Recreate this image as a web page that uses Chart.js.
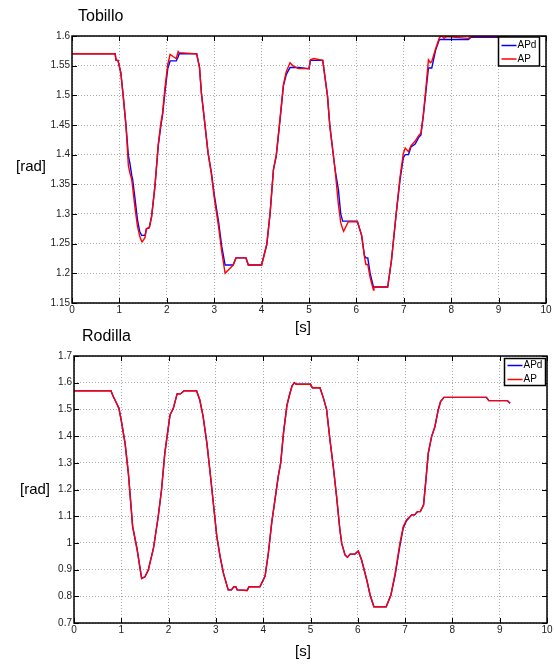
<!DOCTYPE html>
<html>
<head>
<meta charset="utf-8">
<script src="https://cdn.jsdelivr.net/npm/chart.js@4.4.1/dist/chart.umd.min.js"></script>
<style>
  body { margin: 0; background: #fff; }
  #wrap { position: relative; width: 554px; height: 664px; }
  canvas { position: absolute; left: 0; top: 0; }
</style>
</head>
<body>
<div id="wrap">
  <canvas id="tobillo" width="554" height="664"></canvas>
  <canvas id="rodilla" width="554" height="664"></canvas>
</div>
<script>
// Tobillo (ankle) - time [s], desired angle APd and measured AP [rad]
const tobT = [
  0.00, 0.91, 0.93, 0.97, 1.03, 1.08, 1.14, 1.19, 1.22, 1.26, 1.28, 1.33, 1.38, 1.43, 1.47, 1.48,
  1.54, 1.57, 1.63, 1.68, 1.75, 1.82, 1.88, 1.91, 1.96, 2.02, 2.07, 2.14, 2.20, 2.24, 2.26, 2.63,
  2.69, 2.73, 2.80, 2.87, 2.94, 3.00, 3.09, 3.16, 3.23, 3.40, 3.46, 3.67, 3.72, 4.00, 4.11, 4.18,
  4.25, 4.31, 4.39, 4.46, 4.52, 4.60, 4.67, 4.78, 5.00, 5.03, 5.10, 5.29, 5.39, 5.44, 5.55, 5.62,
  5.67, 5.71, 5.73, 5.83, 6.02, 6.11, 6.17, 6.20, 6.24, 6.29, 6.36, 6.37, 6.41, 6.66, 6.74, 6.84,
  6.92, 6.99, 7.03, 7.10, 7.15, 7.24, 7.32, 7.36, 7.41, 7.47, 7.52, 7.56, 7.59, 7.67, 7.75, 7.80,
  7.85, 7.90, 8.36, 8.42, 9.20
];
const tobApd = [
  1.570, 1.570, 1.559, 1.559, 1.538, 1.499, 1.448, 1.398, 1.386, 1.365, 1.358, 1.325, 1.291, 1.270, 1.264, 1.264,
  1.264, 1.275, 1.277, 1.296, 1.347, 1.415, 1.452, 1.466, 1.505, 1.545, 1.558, 1.558, 1.558, 1.565, 1.570, 1.570,
  1.547, 1.504, 1.454, 1.403, 1.370, 1.333, 1.288, 1.245, 1.214, 1.214, 1.226, 1.226, 1.214, 1.214, 1.249, 1.302,
  1.375, 1.398, 1.459, 1.516, 1.535, 1.547, 1.547, 1.547, 1.545, 1.559, 1.559, 1.559, 1.499, 1.448, 1.375, 1.341,
  1.300, 1.288, 1.288, 1.288, 1.288, 1.264, 1.230, 1.226, 1.226, 1.200, 1.177, 1.177, 1.177, 1.177, 1.222, 1.301,
  1.357, 1.395, 1.400, 1.400, 1.413, 1.418, 1.430, 1.433, 1.464, 1.509, 1.546, 1.546, 1.546, 1.576, 1.594, 1.594,
  1.594, 1.594, 1.594, 1.598, 1.598
];
const tobAp = [
  1.570, 1.570, 1.559, 1.559, 1.538, 1.499, 1.448, 1.381, 1.370, 1.358, 1.345, 1.310, 1.280, 1.262, 1.254, 1.253,
  1.260, 1.275, 1.277, 1.296, 1.347, 1.418, 1.456, 1.470, 1.512, 1.552, 1.569, 1.565, 1.562, 1.574, 1.572, 1.570,
  1.547, 1.504, 1.454, 1.403, 1.368, 1.328, 1.280, 1.236, 1.200, 1.214, 1.226, 1.226, 1.214, 1.214, 1.249, 1.302,
  1.375, 1.400, 1.462, 1.518, 1.540, 1.555, 1.549, 1.545, 1.545, 1.560, 1.562, 1.559, 1.499, 1.448, 1.375, 1.316,
  1.285, 1.275, 1.271, 1.287, 1.287, 1.264, 1.228, 1.215, 1.215, 1.193, 1.172, 1.176, 1.177, 1.177, 1.222, 1.301,
  1.362, 1.402, 1.411, 1.405, 1.415, 1.423, 1.433, 1.436, 1.466, 1.515, 1.560, 1.555, 1.557, 1.578, 1.597, 1.600,
  1.596, 1.599, 1.596, 1.599, 1.599
];

// Rodilla (knee)
const rodT = [
  0.00, 0.78, 0.83, 0.90, 0.95, 1.01, 1.08, 1.15, 1.24, 1.33, 1.43, 1.50, 1.57, 1.68, 1.78, 1.85,
  1.92, 2.03, 2.10, 2.18, 2.25, 2.33, 2.59, 2.66, 2.73, 2.81, 2.88, 3.02, 3.09, 3.16, 3.26, 3.33,
  3.38, 3.42, 3.45, 3.66, 3.70, 3.93, 4.04, 4.11, 4.18, 4.25, 4.32, 4.37, 4.43, 4.50, 4.55, 4.61,
  4.66, 4.70, 5.00, 5.04, 5.20, 5.27, 5.34, 5.41, 5.48, 5.55, 5.62, 5.66, 5.73, 5.78, 5.84, 5.94,
  6.01, 6.08, 6.19, 6.26, 6.34, 6.60, 6.70, 6.79, 6.89, 6.96, 7.03, 7.14, 7.20, 7.26, 7.32, 7.39,
  7.44, 7.49, 7.56, 7.63, 7.70, 7.75, 7.82, 8.72, 8.77, 9.16, 9.22
];
const rodApd = [
  1.570, 1.570, 1.548, 1.523, 1.504, 1.448, 1.373, 1.260, 1.061, 0.980, 0.867, 0.873, 0.898, 0.980, 1.098, 1.198,
  1.336, 1.479, 1.504, 1.558, 1.558, 1.570, 1.570, 1.535, 1.473, 1.373, 1.260, 1.023, 0.948, 0.886, 0.824, 0.824,
  0.836, 0.836, 0.824, 0.822, 0.836, 0.836, 0.876, 0.963, 1.076, 1.163, 1.251, 1.300, 1.413, 1.513, 1.550, 1.588,
  1.600, 1.594, 1.594, 1.581, 1.581, 1.544, 1.500, 1.388, 1.288, 1.176, 1.051, 0.998, 0.955, 0.946, 0.958, 0.958,
  0.970, 0.936, 0.861, 0.805, 0.761, 0.761, 0.805, 0.880, 0.990, 1.055, 1.083, 1.105, 1.105, 1.117, 1.117, 1.142,
  1.236, 1.336, 1.398, 1.435, 1.498, 1.529, 1.545, 1.545, 1.533, 1.533, 1.523
];
const rodAp = [
  1.570, 1.570, 1.548, 1.523, 1.504, 1.448, 1.373, 1.260, 1.061, 0.980, 0.867, 0.873, 0.898, 0.980, 1.098, 1.198,
  1.336, 1.479, 1.504, 1.558, 1.558, 1.570, 1.570, 1.535, 1.473, 1.373, 1.260, 1.023, 0.948, 0.886, 0.824, 0.824,
  0.836, 0.836, 0.824, 0.822, 0.836, 0.836, 0.876, 0.963, 1.076, 1.163, 1.251, 1.300, 1.413, 1.513, 1.550, 1.588,
  1.600, 1.594, 1.594, 1.581, 1.581, 1.544, 1.500, 1.388, 1.288, 1.176, 1.051, 0.998, 0.955, 0.946, 0.958, 0.958,
  0.970, 0.936, 0.861, 0.805, 0.761, 0.761, 0.805, 0.886, 0.998, 1.061, 1.086, 1.105, 1.105, 1.117, 1.117, 1.142,
  1.236, 1.336, 1.398, 1.435, 1.498, 1.529, 1.545, 1.545, 1.533, 1.533, 1.523
];

Chart.defaults.font.family = "'Liberation Sans', Arial, sans-serif";
Chart.defaults.color = "#222";

const pts = (t, v) => t.map((x, i) => ({ x: x, y: v[i] }));

// matlab-like frame: box, inward ticks, titles and a boxed legend
const frame = {
  id: "frame",
  afterDraw(chart, args, o) {
    const { ctx, chartArea: a, scales: { x, y } } = chart;
    ctx.save();
    ctx.strokeStyle = "#000";
    ctx.lineWidth = 1;
    ctx.beginPath();
    x.ticks.forEach((t) => {
      const p = Math.round(x.getPixelForValue(t.value)) + 0.5;
      ctx.moveTo(p, a.bottom); ctx.lineTo(p, a.bottom - 5);
      ctx.moveTo(p, a.top); ctx.lineTo(p, a.top + 5);
    });
    y.ticks.forEach((t) => {
      const p = Math.round(y.getPixelForValue(t.value)) + 0.5;
      ctx.moveTo(a.left, p); ctx.lineTo(a.left + 5, p);
      ctx.moveTo(a.right, p); ctx.lineTo(a.right - 5, p);
    });
    ctx.stroke();
    ctx.lineWidth = 1.5;
    ctx.strokeRect(a.left, a.top, a.right - a.left, a.bottom - a.top);

    ctx.fillStyle = "#000";
    ctx.textBaseline = "middle";
    ctx.textAlign = "left";
    ctx.font = "16px 'Liberation Sans', Arial, sans-serif";
    ctx.fillText(o.title, o.titleX, o.titleY);
    ctx.font = "15px 'Liberation Sans', Arial, sans-serif";
    ctx.fillText("[rad]", o.yLabelX, o.yLabelY);
    ctx.textAlign = "center";
    ctx.fillText("[s]", o.xLabelX, o.xLabelY);

    // legend
    const L = o.legend;
    ctx.fillStyle = "#fff";
    ctx.fillRect(L.x, L.y, L.w, L.h);
    ctx.lineWidth = 1.5;
    ctx.strokeStyle = "#000";
    ctx.strokeRect(L.x, L.y, L.w, L.h);
    ctx.font = "10px 'Liberation Sans', Arial, sans-serif";
    ctx.textAlign = "left";
    chart.data.datasets.forEach((ds, i) => {
      const ly = L.y + L.row0 + i * L.rowH;
      ctx.strokeStyle = ds.borderColor;
      ctx.lineWidth = 1.5;
      ctx.beginPath();
      ctx.moveTo(L.x + 3, ly); ctx.lineTo(L.x + 18, ly);
      ctx.stroke();
      ctx.fillStyle = "#000";
      ctx.fillText(ds.label, L.x + 19, ly);
    });
    ctx.restore();
  },
};

function makeChart(id, t, apd, ap, yMin, yMax, yStep, pad, yWidth, extra) {
  return new Chart(document.getElementById(id), {
    type: "line",
    data: {
      datasets: [
        { label: "APd", data: pts(t, apd), borderColor: "#0000ff", borderWidth: 1.4, pointRadius: 0, order: 1 },
        { label: "AP", data: pts(t, ap), borderColor: "#ff0000", borderWidth: 1.4, pointRadius: 0, order: 0 },
      ],
    },
    options: {
      responsive: false,
      animation: false,
      layout: { padding: pad },
      plugins: { legend: { display: false }, tooltip: { enabled: false }, frame: extra },
      scales: {
        x: {
          type: "linear",
          min: 0,
          max: 10,
          ticks: { stepSize: 1, autoSkip: false, maxRotation: 0, padding: 1, font: { size: 10 } },
          grid: { color: "#aaa", drawTicks: false },
          border: { display: false, dash: [1, 2] },
          afterFit: (s) => { s.height = 29; },
        },
        y: {
          min: yMin,
          max: yMax,
          ticks: {
            stepSize: yStep,
            autoSkip: false,
            padding: 2,
            font: { size: 10 },
            callback: (v) => String(+v.toFixed(2)),
          },
          grid: { color: "#aaa", drawTicks: false },
          border: { display: false, dash: [1, 2] },
          afterFit: (s) => { s.width = yWidth; },
        },
      },
    },
    plugins: [frame],
  });
}

makeChart("tobillo", tobT, tobApd, tobAp, 1.15, 1.6, 0.05,
  { left: 0, right: 8, top: 36, bottom: 332 }, 72,
  { title: "Tobillo", titleX: 78, titleY: 17, yLabelX: 16, yLabelY: 167, xLabelX: 303, xLabelY: 328,
    legend: { x: 498.5, y: 37, w: 41, h: 29, row0: 8.5, rowH: 13.5 } });

makeChart("rodilla", rodT, rodApd, rodAp, 0.7, 1.7, 0.1,
  { left: 0, right: 7, top: 356, bottom: 12 }, 74,
  { title: "Rodilla", titleX: 82, titleY: 337, yLabelX: 20, yLabelY: 490, xLabelX: 303, xLabelY: 652,
    legend: { x: 504.5, y: 358.5, w: 41, h: 27, row0: 7, rowH: 14 } });
</script>
</body>
</html>
